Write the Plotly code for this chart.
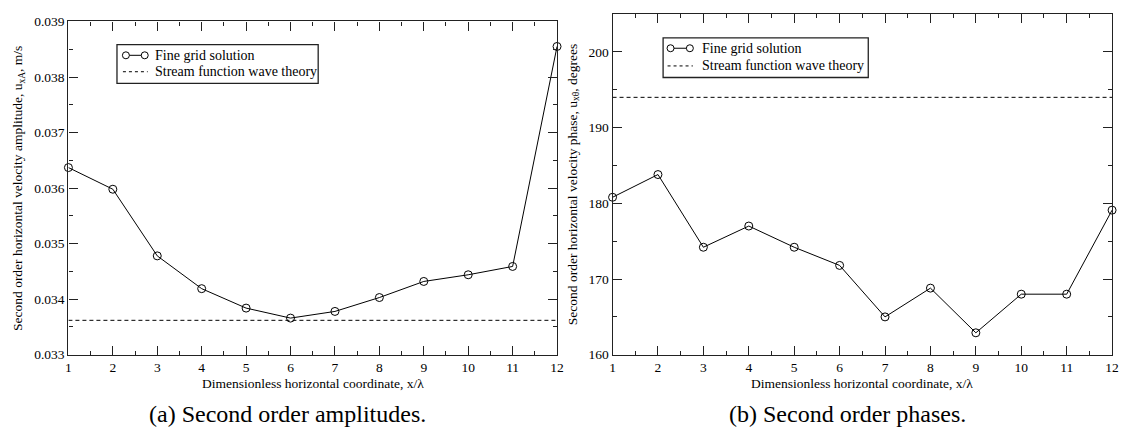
import plotly.graph_objects as go

# ---- data ----
x_coord = [1, 2, 3, 4, 5, 6, 7, 8, 9, 10, 11, 12]
amp_fine = [0.03637, 0.03598, 0.03478, 0.03419, 0.03384, 0.03366, 0.03378,
            0.03403, 0.03432, 0.03444, 0.03459, 0.03855]
amp_stream = 0.03362
phase_fine = [180.8, 183.8, 174.2, 177.0, 174.2, 171.8, 165.0, 168.8, 162.9,
              168.0, 168.0, 179.1]
phase_stream = 194.0

legend_labels = ["Fine grid solution", "Stream function wave theory"]
ytitle_a = "Second order horizontal velocity amplitude, u<sub>xA</sub>, m/s"
ytitle_b = "Second order horizontal velocity phase, u<sub>xθ</sub>, degrees"
xtitle = "Dimensionless horizontal coordinate, x/λ"
captions = ["(a) Second order amplitudes.", "(b) Second order phases."]

W, H = 1129, 441
FONT = "'Liberation Serif', 'Times New Roman', 'DejaVu Serif', serif"


def px(x):
    return x / W


def py(y):
    return 1 - y / H


fig = go.Figure()

line_style = dict(color="black", width=1)
marker_style = dict(symbol="circle-open", size=8, color="black",
                    line=dict(width=1, color="black"))

fig.add_trace(go.Scatter(x=x_coord, y=amp_fine, mode="lines+markers",
                         line=line_style, marker=marker_style,
                         xaxis="x", yaxis="y", showlegend=False,
                         cliponaxis=False))
fig.add_trace(go.Scatter(x=[x_coord[0], x_coord[-1]], y=[amp_stream, amp_stream],
                         mode="lines", line=dict(color="black", width=1, dash="4px,3px"),
                         xaxis="x", yaxis="y", showlegend=False))
fig.add_trace(go.Scatter(x=x_coord, y=phase_fine, mode="lines+markers",
                         line=line_style, marker=marker_style,
                         xaxis="x2", yaxis="y2", showlegend=False,
                         cliponaxis=False))
fig.add_trace(go.Scatter(x=[x_coord[0], x_coord[-1]], y=[phase_stream, phase_stream],
                         mode="lines", line=dict(color="black", width=1, dash="4px,3px"),
                         xaxis="x2", yaxis="y2", showlegend=False))

AX = "#222"
tickfont = dict(family=FONT, size=13.5, color="black")
titlefont = dict(family=FONT, size=13.5, color="black")


def xaxis_cfg(domain, anchor, side="bottom", overlay=None, labels=True):
    d = dict(domain=domain, anchor=anchor, side=side, range=[1, 12], dtick=1,
             tick0=1, ticks="inside", ticklen=9, tickwidth=1, tickcolor=AX,
             showline=True, linecolor=AX, linewidth=1.3, mirror=True,
             showgrid=False, zeroline=False, tickfont=tickfont,
             showticklabels=labels,
             minor=dict(ticks="inside", ticklen=4, dtick=0.5, tick0=1,
                        tickcolor=AX, showgrid=False))
    if overlay:
        d["overlaying"] = overlay
    return d


def yaxis_cfg(domain, anchor, rng, dtick, mdtick, labels=True, side="left",
              overlay=None, fmt=None):
    d = dict(domain=domain, anchor=anchor, side=side, range=rng, dtick=dtick,
             tick0=rng[0], ticks="inside", ticklen=9, tickwidth=1,
             tickcolor=AX, showline=True, linecolor=AX, linewidth=1.3,
             mirror=True, showgrid=False, zeroline=False, tickfont=tickfont,
             showticklabels=labels,
             minor=dict(ticks="inside", ticklen=4, dtick=mdtick,
                        tickcolor=AX, showgrid=False))
    if fmt:
        d["tickformat"] = fmt
    if overlay:
        d["overlaying"] = overlay
    return d


dx1 = [px(66), px(559)]
dy1 = [py(360), py(15)]
dx2 = [px(615), px(1119)]
dy2 = [py(360), py(7.3)]

fig.update_layout(
    width=W, height=H,
    margin=dict(l=0, r=0, t=0, b=0),
    paper_bgcolor="white", plot_bgcolor="white",
    font=dict(family=FONT, color="black"),
    xaxis=xaxis_cfg(dx1, "y"),
    yaxis=yaxis_cfg(dy1, "x", [0.033, 0.039], 0.001, 0.0005, fmt=".3f"),
    xaxis2=xaxis_cfg(dx2, "y2"),
    yaxis2=yaxis_cfg(dy2, "x2", [160, 205], 10, 5),
    # mirrored tick axes (top / right)
    xaxis3=xaxis_cfg(dx1, "y", side="top", overlay="x", labels=False),
    yaxis3=yaxis_cfg(dy1, "x", [0.033, 0.039], 0.001, 0.0005, labels=False,
                     side="right", overlay="y"),
    xaxis4=xaxis_cfg(dx2, "y2", side="top", overlay="x2", labels=False),
    yaxis4=yaxis_cfg(dy2, "x2", [160, 205], 10, 5, labels=False,
                     side="right", overlay="y2"),
)

# invisible traces so the overlay axes are drawn
fig.add_trace(go.Scatter(x=[1], y=[0.033], xaxis="x3", yaxis="y3", mode="markers",
                         marker=dict(opacity=0), showlegend=False, hoverinfo="skip"))
fig.add_trace(go.Scatter(x=[1], y=[160], xaxis="x4", yaxis="y4", mode="markers",
                         marker=dict(opacity=0), showlegend=False, hoverinfo="skip"))

shapes = []
annotations = []

# axis titles
for cx in (312.5, 867):
    annotations.append(dict(xref="paper", yref="paper", x=px(cx), y=py(390),
                            xanchor="center", yanchor="middle", showarrow=False,
                            text=xtitle, font=titlefont))
for cx, cy, txt in ((15, 187.5, ytitle_a), (575, 183.5, ytitle_b)):
    annotations.append(dict(xref="paper", yref="paper", x=px(cx), y=py(cy),
                            xanchor="center", yanchor="middle", showarrow=False,
                            textangle=-90, text=txt, font=titlefont))

# manual legends (box, samples, labels)
legend_boxes = [
    dict(x0=115, x1=318, y0=39, y1=79, c1=124, c2=143, r1=50, r2=67, tx=151),
    dict(x0=666, x1=873, y0=32, y1=73, c1=673.5, c2=693, r1=42.7, r2=61, tx=703),
]
for lb in legend_boxes:
    shapes.append(dict(type="rect", xref="paper", yref="paper",
                       x0=px(lb["x0"]), x1=px(lb["x1"]), y0=py(lb["y1"]), y1=py(lb["y0"]),
                       line=dict(color=AX, width=1.3), fillcolor="white", layer="above"))
    shapes.append(dict(type="line", xref="paper", yref="paper",
                       x0=px(lb["c1"]), x1=px(lb["c2"]), y0=py(lb["r1"]), y1=py(lb["r1"]),
                       line=dict(color="black", width=1), layer="above"))
    for cx in (lb["c1"], lb["c2"]):
        shapes.append(dict(type="circle", xref="paper", yref="paper",
                           xsizemode="pixel", ysizemode="pixel",
                           xanchor=px(cx), yanchor=py(lb["r1"]),
                           x0=-3.5, x1=3.5, y0=-3.5, y1=3.5,
                           line=dict(color="black", width=1), fillcolor="white",
                           layer="above"))
    shapes.append(dict(type="line", xref="paper", yref="paper",
                       x0=px(lb["c1"] - 3), x1=px(lb["c2"] + 3), y0=py(lb["r2"]), y1=py(lb["r2"]),
                       line=dict(color="black", width=1, dash="3px,3px"), layer="above"))
    for ry, txt in zip((lb["r1"], lb["r2"]), legend_labels):
        annotations.append(dict(xref="paper", yref="paper", x=px(lb["tx"]), y=py(ry),
                                xanchor="left", yanchor="middle", showarrow=False,
                                text=txt, font=dict(family=FONT, size=14, color="black")))

# captions
for cx, txt in zip((287.5, 852.5), captions):
    annotations.append(dict(xref="paper", yref="paper", x=px(cx), y=py(421),
                            xanchor="center", yanchor="middle", showarrow=False,
                            text=txt, font=dict(family=FONT, size=24, color="black")))

fig.update_layout(shapes=shapes, annotations=annotations)

fig.write_html("out.html")
